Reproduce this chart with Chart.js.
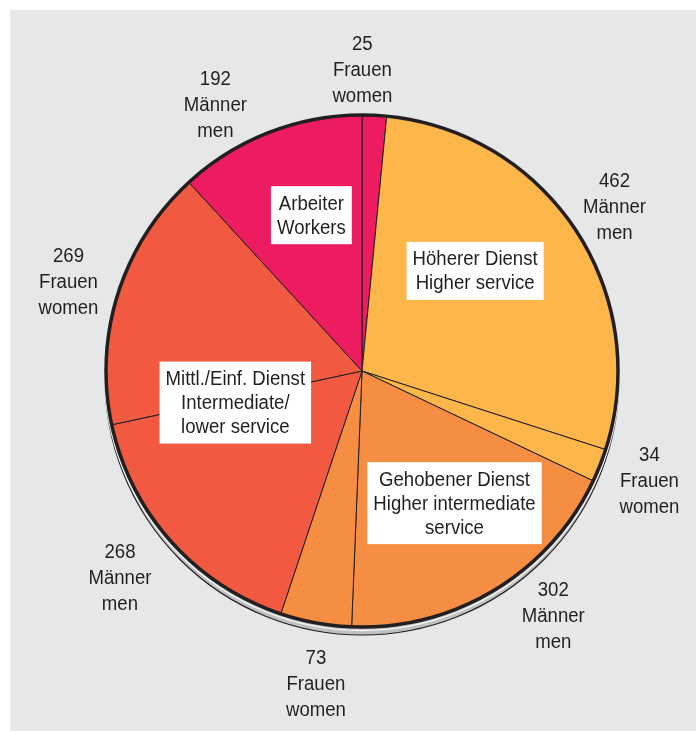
<!DOCTYPE html>
<html>
<head>
<meta charset="utf-8">
<script src="https://cdn.jsdelivr.net/npm/chart.js@4.4.0/dist/chart.umd.min.js"></script>
<style>
  html, body { margin: 0; padding: 0; background: #fff; }
  #panel { position: absolute; left: 10px; top: 10px; width: 686px; height: 721px; background: #E6E7E9; }
  #wrap { position: absolute; left: 0; top: 0; width: 696px; height: 731px; }
</style>
</head>
<body>
<div id="panel"></div>
<div id="wrap"><canvas id="pie" width="696" height="731"></canvas></div>
<script>
    // slices clockwise from 12 o'clock
    const counts = [25, 462, 34, 302, 73, 268, 269, 192];
    const sexDe = ['Frauen', 'Männer', 'Frauen', 'Männer', 'Frauen', 'Männer', 'Frauen', 'Männer'];
    const sexEn = ['women', 'men', 'women', 'men', 'women', 'men', 'women', 'men'];
    const sliceColors = ['#ED1B5F', '#FDB64A', '#FDB64A', '#F58D42', '#F58D42', '#F15A41', '#F15A41', '#ED1B5F'];

    const groupNames = [
        ['Arbeiter', 'Workers'],
        ['Höherer Dienst', 'Higher service'],
        ['Gehobener Dienst', 'Higher intermediate', 'service'],
        ['Mittl./Einf. Dienst', 'Intermediate/', 'lower service']
    ];
    // label box placement: angle (deg from top, clockwise) and radius fraction
    const groupPos = [[-18, 0.64], [48.5, 0.59], [145, 0.63], [256, 0.51]];
    // outer labels: angle nudge (deg) and radius fraction
    const outerNudge = [-2.7, 0, -1, -7, -2, 1.5, -0.5, -7.5];
    const outerRad = [1.18, 1.18, 1.2, 1.21, 1.23, 1.24, 1.2, 1.19];

    const FONT = '20px "Liberation Sans", Arial, sans-serif';
    const SQ = 0.93;   // condensed look

    function squeezedText(ctx, t, x, y) {
        ctx.save();
        ctx.translate(x, y);
        ctx.scale(SQ, 1);
        ctx.fillText(t, 0, 0);
        ctx.restore();
    }

    const pieDecor = {
        id: 'pieDecor',
        beforeDatasetsDraw(chart) {
            const arc = chart.getDatasetMeta(0).data[0];
            const ctx = chart.ctx;
            ctx.save();
            ctx.beginPath();
            ctx.arc(arc.x, arc.y + 7, arc.outerRadius + 1, 0, Math.PI * 2);
            ctx.fillStyle = '#BFC0C2';
            ctx.fill();
            ctx.lineWidth = 1.2;
            ctx.strokeStyle = '#231F20';
            ctx.stroke();
            ctx.beginPath();
            ctx.arc(arc.x, arc.y + 2, arc.outerRadius + 1.5, 0, Math.PI * 2);
            ctx.lineWidth = 1.5;
            ctx.strokeStyle = '#F2F2F2';
            ctx.stroke();
            ctx.restore();
        },
        afterDatasetsDraw(chart) {
            const meta = chart.getDatasetMeta(0);
            const arc = meta.data[0];
            const cx = arc.x, cy = arc.y, R = arc.outerRadius;
            const ctx = chart.ctx;
            ctx.save();
            ctx.beginPath();
            ctx.arc(cx, cy, R, 0, Math.PI * 2);
            ctx.lineWidth = 3.5;
            ctx.strokeStyle = '#231F20';
            ctx.stroke();

            ctx.font = FONT;
            ctx.textAlign = 'center';
            ctx.textBaseline = 'middle';
            const lh = 26;

            // outer labels
            meta.data.forEach((el, i) => {
                const mid = (el.startAngle + el.endAngle) / 2 + outerNudge[i] * Math.PI / 180;
                const r = R * outerRad[i];
                const x = cx + Math.cos(mid) * r;
                const y = cy + Math.sin(mid) * r + 2;
                ctx.fillStyle = '#231F20';
                [String(counts[i]), sexDe[i], sexEn[i]].forEach((t, k) => {
                    squeezedText(ctx, t, x, y + (k - 1) * lh);
                });
            });

            // group boxes
            groupNames.forEach((lines, g) => {
                const a = (groupPos[g][0] - 90) * Math.PI / 180;
                const x = cx + Math.cos(a) * R * groupPos[g][1];
                const y = cy + Math.sin(a) * R * groupPos[g][1];
                const w = Math.max(...lines.map(t => ctx.measureText(t).width)) * SQ + 12;
                const h = lines.length * 24 + 10;
                ctx.fillStyle = '#FFFFFF';
                ctx.fillRect(x - w / 2, y - h / 2, w, h);
                ctx.fillStyle = '#231F20';
                lines.forEach((t, k) => {
                    squeezedText(ctx, t, x, y - h / 2 + 5 + 12 + k * 24 + 1);
                });
            });
            ctx.restore();
        }
    };

    new Chart(document.getElementById('pie').getContext('2d'), {
        type: 'pie',
        data: {
            labels: sexDe,
            datasets: [{
                data: counts,
                backgroundColor: sliceColors,
                borderColor: '#231F20',
                borderWidth: 1,
                borderAlign: 'center'
            }]
        },
        options: {
            responsive: false,
            animation: false,
            radius: 256,
            layout: { padding: { left: 106, right: 78, top: 115, bottom: 104 } },
            plugins: {
                legend: { display: false },
                tooltip: { enabled: false }
            }
        },
        plugins: [pieDecor]
    });
</script>
</body>
</html>
